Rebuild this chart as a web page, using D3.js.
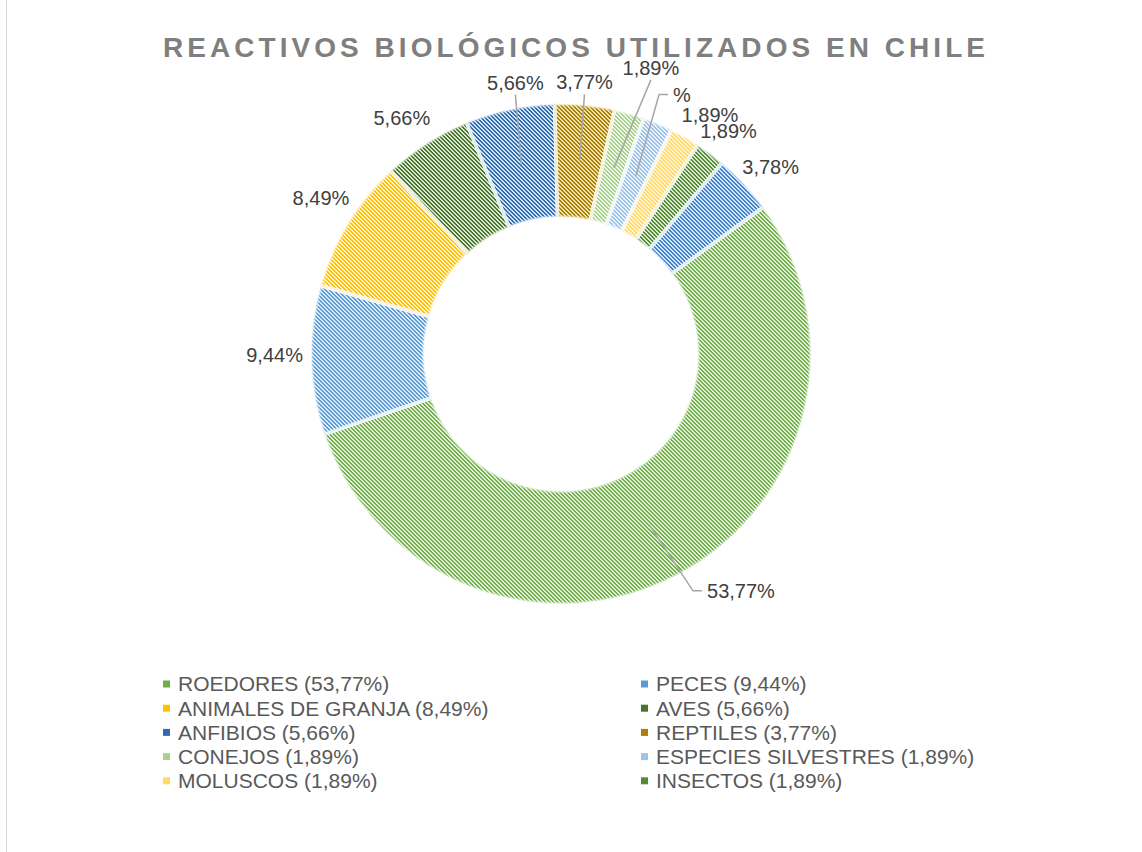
<!DOCTYPE html>
<html>
<head>
<meta charset="utf-8">
<script src="https://cdn.jsdelivr.net/npm/d3@7"></script>
<style>
  body { margin: 0; background: #fff; }
  svg { display: block; font-family: "Liberation Sans", Arial, sans-serif; }
</style>
</head>
<body>
<div id="chart"></div>
<script>
// data
const categories = ["ROEDORES", "PECES", "ANIMALES DE GRANJA", "AVES", "ANFIBIOS", "REPTILES",
  "CONEJOS", "ESPECIES SILVESTRES", "MOLUSCOS", "INSECTOS", ""];
const values = [53.77, 9.44, 8.49, 5.66, 5.66, 3.77, 1.89, 1.89, 1.89, 1.89, 3.78];
const valueLabels = ["53,77%", "9,44%", "8,49%", "5,66%", "5,66%", "3,77%", "1,89%", "%", "1,89%", "1,89%", "3,78%"];
const legendLabels = ["ROEDORES (53,77%)", "PECES (9,44%)", "ANIMALES DE GRANJA (8,49%)", "AVES (5,66%)",
  "ANFIBIOS (5,66%)", "REPTILES (3,77%)", "CONEJOS (1,89%)", "ESPECIES SILVESTRES (1,89%)",
  "MOLUSCOS (1,89%)", "INSECTOS (1,89%)"];

// styling
const stripeColors = ["#70AD47", "#5B9BD5", "#FFC000", "#4A7530", "#2F6DB3", "#A88208",
  "#A9D18E", "#9DC3E6", "#FFD966", "#558A37", "#3D84CC"];
const tintColors = ["#E2EFDA", "#DDEBF7", "#FFF2CC", "#D7E6CD", "#D3E2F3", "#F1E0A8",
  "#EEF6E9", "#E9F2FB", "#FFF5D6", "#DAE8D0", "#D5E5F6"];
// label nudges from the ring centre of each slice (label dragged out like in Excel)
const labelNudge = [[91, 65], [-93, -4], [-75, -55], [-55, -73], [-6, -82], [5, -79],
  [37, -100], [46, -81], [53, -71], [52, -68], [68, -55]];
const leaderKind = ["side", "none", "none", "none", "up", "up", "up", "side", "none", "none", "none"];

const W = 1142, H = 852;
const cx = 561, cy = 354, rOuter = 251, rInner = 136;
const firstSliceAngle = 54 * Math.PI / 180;

const svg = d3.select("#chart").append("svg")
  .attr("width", W).attr("height", H);

// chart area border (only the left edge shows)
svg.append("rect")
  .attr("x", 6.5).attr("y", -2)
  .attr("width", W + 10).attr("height", H + 10)
  .attr("fill", "#fff").attr("stroke", "#d9d9d9").attr("stroke-width", 1);

// pixel stripe patterns (wide downward diagonal)
const defs = svg.append("defs");
const cells = [];
for (let y = 0; y < 4; y++) {
  for (let x = 0; x < 4; x++) {
    if ((x - y + 4) % 4 < 2) cells.push([x, y]);
  }
}
stripeColors.forEach((c, i) => {
  const p = defs.append("pattern")
    .attr("id", "pat" + i)
    .attr("patternUnits", "userSpaceOnUse")
    .attr("width", 4).attr("height", 4);
  p.append("rect").attr("width", 4).attr("height", 4).attr("fill", tintColors[i]);
  p.selectAll("rect.px")
    .data(cells)
    .enter()
    .append("rect")
    .attr("class", "px")
    .attr("x", d => d[0]).attr("y", d => d[1])
    .attr("width", 1).attr("height", 1)
    .attr("shape-rendering", "crispEdges")
    .attr("fill", c);
});

// title
svg.append("text")
  .attr("x", 163).attr("y", 57)
  .attr("textLength", 822).attr("lengthAdjust", "spacing")
  .attr("font-size", 28).attr("font-weight", "bold")
  .attr("fill", "#7f7f7f")
  .text("REACTIVOS BIOLÓGICOS UTILIZADOS EN CHILE");

const pie = d3.pie().sort(null)
  .startAngle(firstSliceAngle)
  .endAngle(firstSliceAngle + 2 * Math.PI);
const arcs = pie(values);

const arc = d3.arc().innerRadius(rInner).outerRadius(rOuter);
const mid = d3.arc().innerRadius((rInner + rOuter) / 2).outerRadius((rInner + rOuter) / 2);

const g = svg.append("g").attr("transform", "translate(" + cx + "," + cy + ")");

g.selectAll("path.slice")
  .data(arcs)
  .enter()
  .append("path")
  .attr("class", "slice")
  .attr("d", arc)
  .attr("fill", (d, i) => "url(#pat" + i + ")")
  .attr("stroke", "#fff")
  .attr("stroke-width", 3.5)
  .attr("stroke-linejoin", "miter");

// soft edge, like the glow in the original
g.selectAll("path.edge")
  .data(arcs)
  .enter()
  .append("path")
  .attr("class", "edge")
  .attr("d", d3.arc().innerRadius(rInner + 2).outerRadius(rOuter - 2))
  .attr("fill", "none")
  .attr("stroke", (d, i) => tintColors[i])
  .attr("stroke-opacity", 0.45)
  .attr("stroke-width", 2.5);

// data labels and leader lines
const labelSize = 20;
const labels = g.append("g");
arcs.forEach((d, i) => {
  const [mx, my] = mid.centroid(d);
  const lx = mx + labelNudge[i][0], ly = my + labelNudge[i][1];
  const t = labels.append("text")
    .attr("x", lx).attr("y", ly)
    .attr("text-anchor", "middle")
    .attr("dy", "0.35em")
    .attr("font-size", labelSize)
    .attr("fill", "#404040")
    .text(valueLabels[i]);
  const half = t.node().getComputedTextLength() / 2;
  let pts = null;
  if (leaderKind[i] === "up") {
    pts = [[mx, my], [lx, ly + 12]];
  } else if (leaderKind[i] === "side") {
    const ex = lx - half - 5;
    pts = [[mx, my], [ex - 9, ly], [ex, ly]];
  }
  if (pts) {
    labels.append("path")
      .attr("d", d3.line()(pts))
      .attr("fill", "none")
      .attr("stroke", "#a6a6a6")
      .attr("stroke-width", 1.5);
  }
});

// legend, two columns
const legendX = [163, 641], legendY = 684, rowH = 24.2;
const legend = svg.append("g");
legendLabels.forEach((name, i) => {
  const col = i % 2, row = Math.floor(i / 2);
  const x = legendX[col], y = legendY + row * rowH;
  legend.append("rect")
    .attr("x", x).attr("y", y - 3.5)
    .attr("width", 7).attr("height", 7)
    .attr("fill", stripeColors[i]);
  legend.append("text")
    .attr("x", x + 15).attr("y", y)
    .attr("dy", "0.35em")
    .attr("font-size", 21)
    .attr("fill", "#595959")
    .text(name);
});
</script>
</body>
</html>
